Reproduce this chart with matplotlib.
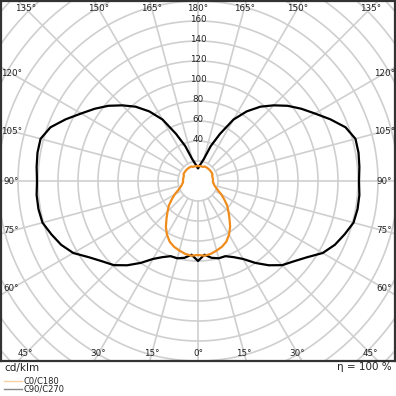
import numpy as np
import matplotlib.pyplot as plt
from matplotlib.lines import Line2D

# gamma angles (0 = straight down, 180 = straight up), cd/klm
gamma = [0, 5, 10, 15, 20, 25, 30, 35, 40, 45, 50, 55, 60, 65, 70, 75, 80, 85, 90,
         95, 100, 105, 110, 115, 120, 125, 130, 135, 140, 145, 150, 155, 160, 165,
         170, 175, 180]
c0_c180 = [74, 75, 74, 72, 70, 67, 62, 56, 49, 43, 38, 32, 27, 22, 19, 17, 16, 15, 15,
           15, 15, 15, 15, 16, 16, 16, 16, 16, 16, 16, 16, 16, 15, 15,
           15, 15, 15]
c90_c270 = [80, 74, 78, 80, 80, 84, 90, 100, 110, 119, 125, 133, 144, 151, 156, 161, 162, 162, 161,
            162, 163, 163, 157, 146, 135, 126, 117, 107, 97, 85, 71, 52, 37, 23,
            18, 15, 13]

ring_values = [40, 60, 80, 100, 120, 140, 160]
angle_labels = [180, 165, 150, 135, 120, 105, 90, 75, 60, 45, 30, 15, 0]

orange = "#ef8c1c"


def to_xy(g, r):
    # full plane: left half mirrors the right half
    g = np.asarray(g, dtype=float)
    r = np.asarray(r, dtype=float)
    th = np.radians(np.concatenate([-g[::-1], g]))
    rr = np.concatenate([r[::-1], r])
    return rr * np.sin(th), -rr * np.cos(th)


fig = plt.figure(figsize=(3.96, 3.96), dpi=100)
ax = fig.add_axes([1 / 396, 35 / 396, 394 / 396, 360 / 396])
ax.set_xlim(-197, 197)
ax.set_ylim(-180, 180)
ax.set_aspect("auto")
ax.set_xticks([])
ax.set_yticks([])
for s in ax.spines.values():
    s.set_color("#333333")
    s.set_linewidth(1.6)

# grid: rings and rays
t = np.linspace(0, 2 * np.pi, 400)
for r in range(20, 300, 20):
    ax.plot(r * np.cos(t), r * np.sin(t), color="#cfcfcf", lw=1.2, zorder=1)
for a in range(0, 360, 15):
    ar = np.radians(a)
    ax.plot([20 * np.sin(ar), 320 * np.sin(ar)], [-20 * np.cos(ar), -320 * np.cos(ar)],
            color="#cfcfcf", lw=1.2, zorder=1)

# curves
x, y = to_xy(gamma, c90_c270)
ax.plot(x, y, color="black", lw=1.6, zorder=3)
x, y = to_xy(gamma, c0_c180)
ax.plot(x, y, color=orange, lw=1.6, zorder=4)

# radial value labels
for v in ring_values:
    ax.text(0, v + 1, str(v), ha="center", va="center", fontsize=6.3, color="#222222", zorder=5)

# angle labels along the frame
for a in angle_labels:
    for sgn in ([1] if a in (0, 180) else [1, -1]):
        ar = np.radians(a * sgn)
        dx, dy = np.sin(ar), -np.cos(ar)
        k = min(186.5 / abs(dx) if abs(dx) > 1e-9 else 1e9,
                172.5 / abs(dy) if abs(dy) > 1e-9 else 1e9)
        ax.text(k * dx, k * dy, f"{a}°", ha="center", va="center",
                fontsize=6.3, color="#222222", zorder=5)

# text under the chart
fig.text(4 / 396, 1 - 368 / 396, "cd/klm", ha="left", va="center", fontsize=7.5, color="#222222")
fig.text(392 / 396, 1 - 367 / 396, "η = 100 %", ha="right", va="center", fontsize=7.5, color="#222222")

fig.add_artist(Line2D([4 / 396, 22 / 396], [1 - 381 / 396] * 2, color="#f9d2a4", lw=1.0))
fig.add_artist(Line2D([4 / 396, 22 / 396], [1 - 389 / 396] * 2, color="#888888", lw=1.0))
fig.text(24 / 396, 1 - 381 / 396, "C0/C180", ha="left", va="center", fontsize=6, color="#222222")
fig.text(24 / 396, 1 - 389 / 396, "C90/C270", ha="left", va="center", fontsize=6, color="#222222")

fig.savefig("out.png", dpi=100)
